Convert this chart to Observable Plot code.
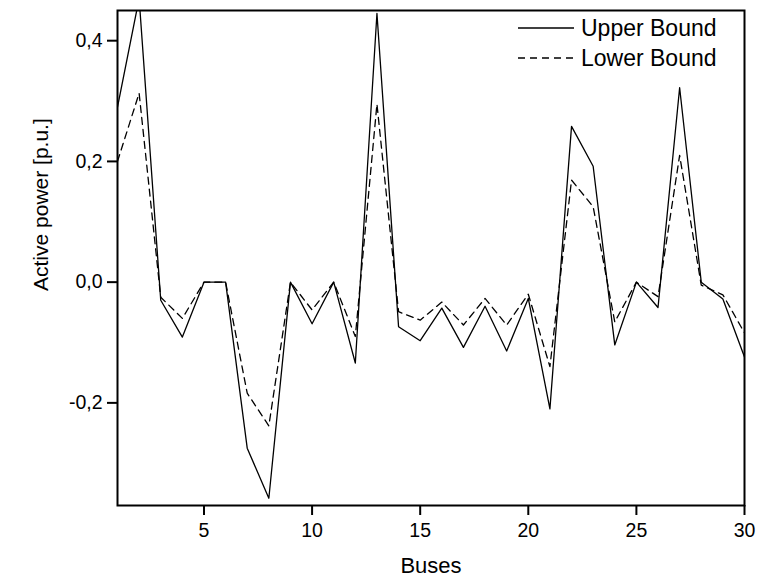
<!DOCTYPE html>
<html><head><meta charset="utf-8">
<script src="https://cdn.jsdelivr.net/npm/d3@7"></script>
<script src="https://cdn.jsdelivr.net/npm/@observablehq/plot@0.6"></script>
<style>
body{margin:0;background:#fff}
#chart{position:relative;width:759px;height:584px;font-family:"Liberation Sans",Arial,sans-serif}
#legend{position:absolute;left:518px;top:13px;font-size:23px;color:#000}
.item{display:flex;align-items:center;height:30px}
.item svg{margin-right:7px}
</style>
</head><body><div id="chart"></div>
<script>
const buses = [1,2,3,4,5,6,7,8,9,10,11,12,13,14,15,16,17,18,19,20,21,22,23,24,25,26,27,28,29,30];
const upperBound = [0.29,0.47,-0.03,-0.091,0,0,-0.275,-0.358,0,-0.069,0,-0.134,0.445,-0.074,-0.097,-0.043,-0.108,-0.040,-0.114,-0.027,-0.210,0.258,0.192,-0.104,0,-0.042,0.322,0,-0.028,-0.124];
const lowerBound = [0.20,0.313,-0.025,-0.060,0,0,-0.184,-0.238,0,-0.046,0,-0.090,0.295,-0.049,-0.063,-0.033,-0.071,-0.027,-0.071,-0.020,-0.140,0.169,0.125,-0.066,0,-0.024,0.21,-0.005,-0.021,-0.084];
const seriesNames = ["Upper Bound","Lower Bound"];
const xTicks = [5,10,15,20,25,30];
const yTicks = [-0.2,0,0.2,0.4];
const xLabel = "Buses";
const yLabel = "Active power [p.u.]";

const upperData = buses.map((b,i)=>({bus:b,value:upperBound[i]}));
const lowerData = buses.map((b,i)=>({bus:b,value:lowerBound[i]}));
const fmt = d => d3.format(".1f")(d).replace(".",",").replace("\u2212","-");

const chart = Plot.plot({
  width:759, height:584,
  marginLeft:117, marginRight:15, marginTop:10, marginBottom:79,
  style:{fontFamily:"'Liberation Sans', Arial, sans-serif", fontSize:"19px", color:"black", background:"white"},
  x:{domain:[1,30]},
  y:{domain:[-0.37,0.45]},
  marks:[
    Plot.line(upperData,{x:"bus",y:"value",stroke:"black",strokeWidth:1.3,clip:true}),
    Plot.line(lowerData,{x:"bus",y:"value",stroke:"black",strokeWidth:1.3,strokeDasharray:"7,5",clip:true}),
    Plot.frame({stroke:"black",strokeWidth:2}),
    Plot.axisX({ticks:xTicks,tickSize:10,tickPadding:8,tickFormat:d=>String(d),label:null,strokeWidth:2,fontSize:19.5}),
    Plot.axisY({ticks:yTicks,tickSize:10,tickPadding:5,tickFormat:fmt,label:null,strokeWidth:2,fontSize:19.5}),
    Plot.text([xLabel],{frameAnchor:"bottom",dy:67,fontSize:22,fill:"black"}),
    Plot.text([yLabel],{frameAnchor:"left",textAnchor:"start",rotate:-90,dx:-76,dy:33,fontSize:21,fill:"black"})
  ]
});
const root = document.getElementById("chart");
root.appendChild(chart);

const legend = document.createElement("div");
legend.id = "legend";
const dashes = ["none","7,5"];
seriesNames.forEach((name,i)=>{
  const item = document.createElement("div");
  item.className = "item";
  item.innerHTML = `<svg width="56" height="4"><line x1="0" y1="2" x2="56" y2="2" stroke="black" stroke-width="1.3" stroke-dasharray="${dashes[i]}"/></svg><span>${name}</span>`;
  legend.appendChild(item);
});
root.appendChild(legend);
</script>
</body></html>
